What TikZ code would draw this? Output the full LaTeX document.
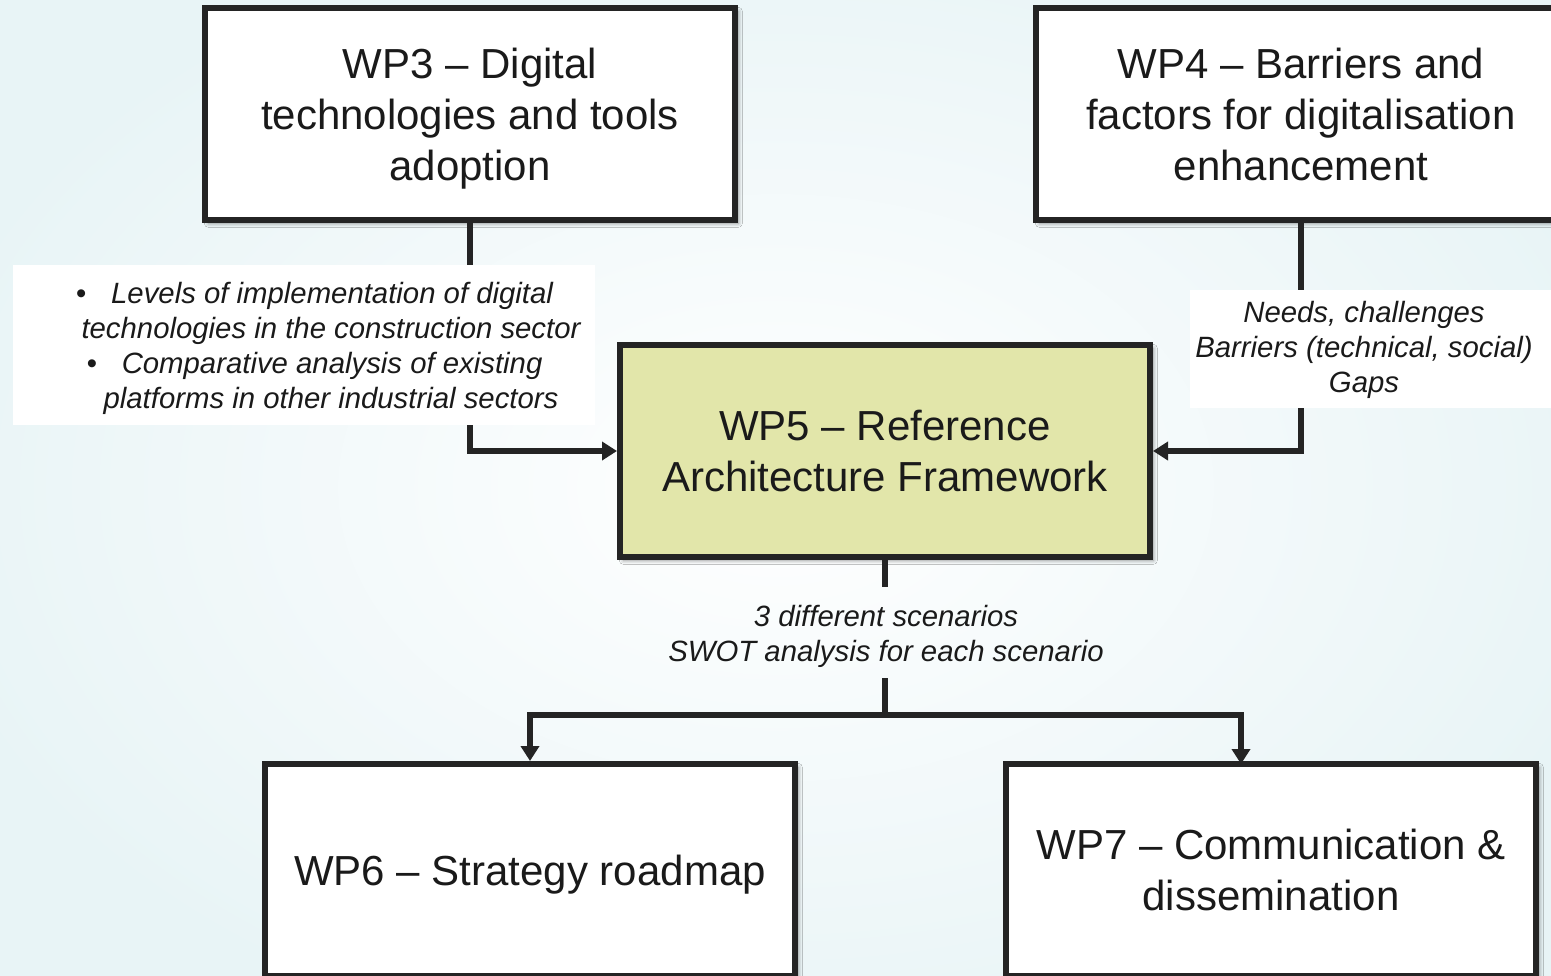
\documentclass[tikz,border=0pt]{standalone}
\usepackage{fontspec}
\setmainfont{Liberation Sans}
\usetikzlibrary{arrows.meta,shadows.blur}
\definecolor{bgc}{RGB}{232,244,246}
\definecolor{boxline}{RGB}{36,36,36}
\definecolor{wpgreen}{RGB}{226,230,170}
\definecolor{txt}{RGB}{26,26,26}
\newcommand\wpst{\rule[-6.7pt]{0pt}{36pt}}
\newcommand\bpad{\makebox[24.75pt]{}}
\tikzset{
  wpbox/.style={draw=boxline, line width=4.5pt, fill=white, rectangle,
    minimum width=397.5pt, minimum height=159pt, inner sep=0pt, align=center,
    text=txt, font=\fontsize{31.5pt}{38.25pt}\selectfont,
    blur shadow={shadow xshift=2.5pt, shadow yshift=-2.5pt, shadow opacity=45, shadow blur radius=3pt}},
  conn/.style={draw=boxline, line width=4.5pt},
  arr/.style={conn, -{Triangle[length=11.25pt, width=13.5pt]}},
  lbltext/.style={align=center, text=txt, inner sep=0pt,
    font=\itshape\fontsize{22pt}{26.25pt}\selectfont},
  whitebox/.style={fill=white, draw=none, rectangle, inner sep=0pt}
}
\begin{document}
\begin{tikzpicture}[x=0.75pt, y=-0.75pt]
\useasboundingbox (0,0) rectangle (1551,975);
\clip (0,0) rectangle (1551,975);
\shade[inner color=white, outer color=bgc] (-100,-100) rectangle (1651,1075);

% boxes
\node[wpbox] (wp3) at (470,114) {\wpst WP3 -- Digital\\\wpst technologies and tools\\\wpst adoption};
\node[wpbox] (wp4) at (1301,114) {\wpst WP4 -- Barriers and\\\wpst factors for digitalisation\\\wpst enhancement};
\node[wpbox, fill=wpgreen] (wp5) at (885,451) {\wpst WP5 -- Reference\\\wpst Architecture Framework};
\node[wpbox] (wp6) at (530,870) {\wpst WP6 -- Strategy roadmap};
\node[wpbox] (wp7) at (1271,870) {\wpst WP7 -- Communication \&\\\wpst dissemination};

% connectors
\draw[arr] (wp3.south) |- (wp5.west);
\draw[arr] (wp4.south) |- (wp5.east);
\coordinate (b1) at (885,587);
\coordinate (b2) at (885,678);
\coordinate (j) at (885,715);
\coordinate (wp7in) at (1241,764);
\draw[conn] (wp5.south) -- (b1);
\draw[conn] (b2) -- (j);
\draw[arr] (j) -| (wp6.north);
\draw[arr] (j) -| (wp7in);

% labels
\node[whitebox, minimum width=436.5pt, minimum height=120pt] (lblLbox) at (304,345) {};
\node[lbltext] (lblL) at (331,348) {\textbullet\hspace{0.85em}Levels of implementation of digital\bpad\\technologies in the construction sector\\\textbullet\hspace{0.85em}Comparative analysis of existing\bpad\\platforms in other industrial sectors};
\node[whitebox, minimum width=285pt, minimum height=88.5pt] (lblRbox) at (1380,349) {};
\node[lbltext] (lblR) at (1364,350) {Needs, challenges\\Barriers (technical, social)\\Gaps};
\node[lbltext] (lblB) at (886,636) {3 different scenarios\\SWOT analysis for each scenario};
\end{tikzpicture}
\end{document}
